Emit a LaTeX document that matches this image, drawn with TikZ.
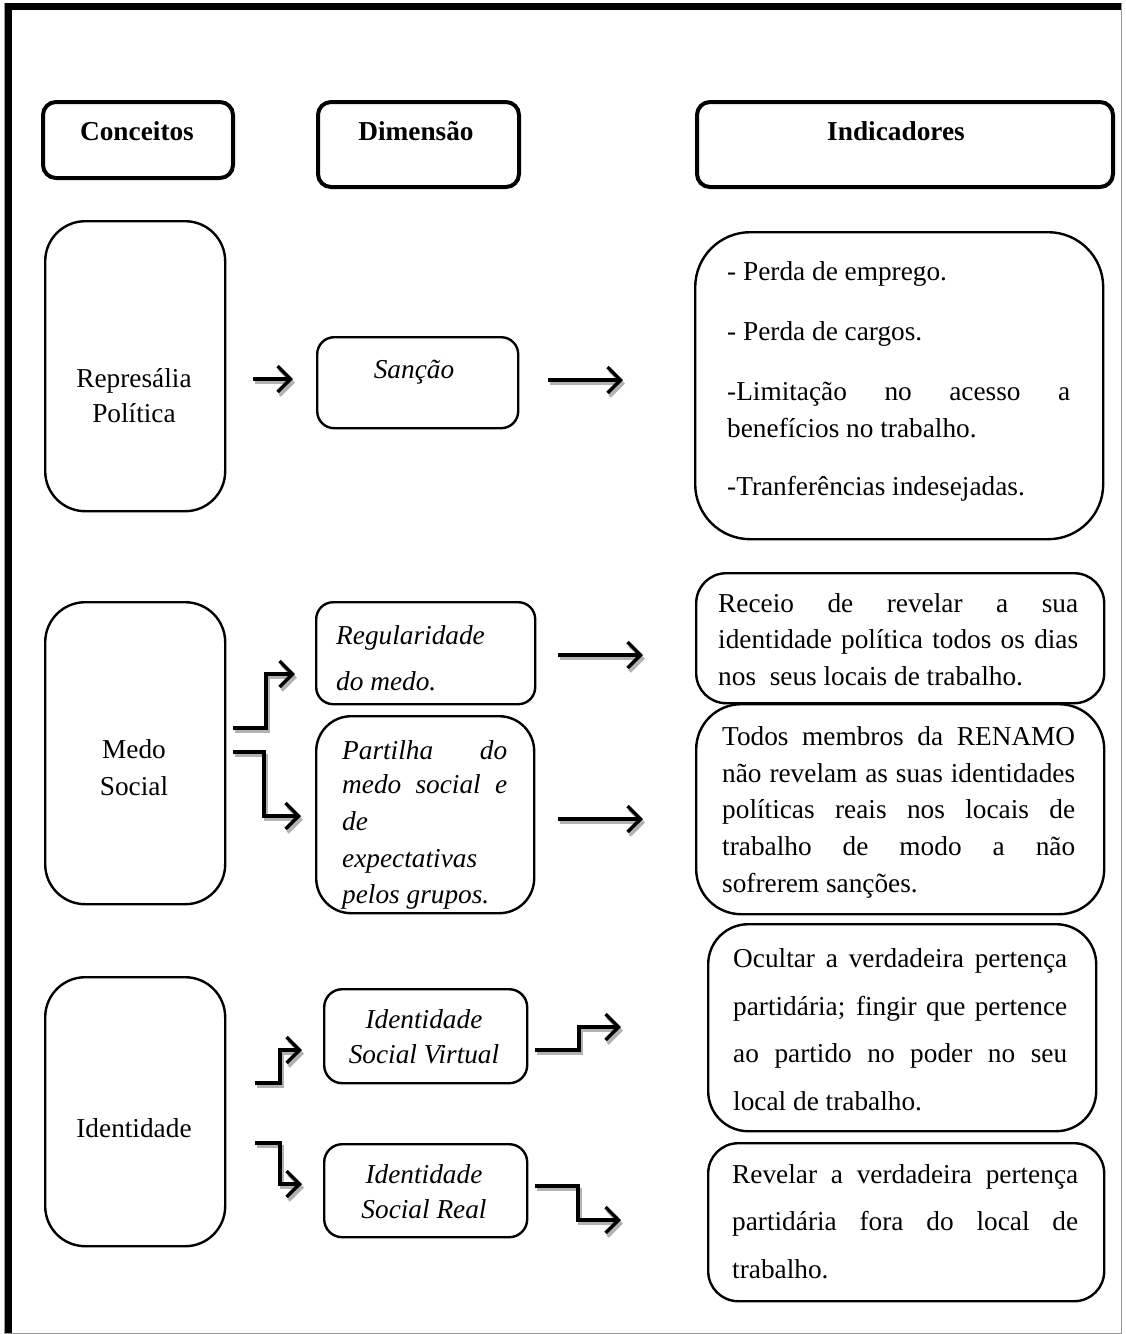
\documentclass[tikz,border=0pt]{standalone}
\usepackage{fontspec}
\setmainfont{Liberation Serif}
\usetikzlibrary{arrows.meta}
\tikzset{
  hdr/.style={draw, line width=4pt, rounded corners=13pt, inner sep=0pt, anchor=north west},
  cbox/.style={draw, line width=2.4pt, inner sep=0pt, anchor=north west},
  txt/.style={inner sep=0pt, font=\fontsize{27.3}{32}\selectfont},
  itx/.style={txt, font=\fontsize{27.3}{32}\selectfont\itshape},
  btx/.style={txt, font=\fontsize{27.3}{32}\selectfont\bfseries},
  arrbase/.style={line width=3.5pt, -{Straight Barb[length=13pt,width=26pt,line width=3.5pt,line join=miter]}},
  ashadow/.style={arrbase, draw=black!30, transform canvas={shift={(2pt,-3.5pt)}}},
  amain/.style={arrbase, draw=black},
}
\newcommand\sarr[1]{\draw[ashadow] #1; \draw[amain] #1;}
\newcommand\lineL[4]{\node[txt,anchor=base west] (#1) at (#2,#3) {#4};}
\newcommand\lineJ[5]{\node[txt,anchor=base west] (#1) at (#2,#3) {\makebox[#4pt][s]{#5}};}
\newcommand\lineC[4]{\node[txt,anchor=base] (#1) at (#2,#3) {#4};}
\newcommand\ilineL[4]{\node[itx,anchor=base west] (#1) at (#2,#3) {#4};}
\newcommand\ilineJ[5]{\node[itx,anchor=base west] (#1) at (#2,#3) {\makebox[#4pt][s]{#5}};}
\newcommand\ilineC[4]{\node[itx,anchor=base] (#1) at (#2,#3) {#4};}
\begin{document}
\begin{tikzpicture}[x=1pt,y=-1pt]
\useasboundingbox (0,0) rectangle (1126,1334);
% page frame
\draw[black!40, line width=1pt] (4,3) rectangle (1121,1333);
\draw[line width=7pt] (5,6.5) -- (1121,6.5);
\draw[line width=7pt] (8.5,3) -- (8.5,1333);

% header boxes
\node[hdr, minimum width=190pt, minimum height=76pt] (hC) at (41,100) {};
\node[hdr, minimum width=201pt, minimum height=85pt] (hD) at (316,100) {};
\node[hdr, minimum width=416pt, minimum height=85pt] (hI) at (695,100) {};
\node[btx, anchor=base] (tC) at (137,140) {Conceitos};
\node[btx, anchor=base] (tD) at (416,140) {Dimensão};
\node[btx, anchor=base] (tI) at (896,140) {Indicadores};

% content boxes
\node[cbox, rounded corners=40pt, minimum width=180pt, minimum height=290pt] (rep) at (44,220) {};
\node[cbox, rounded corners=17pt, minimum width=201pt, minimum height=91pt] (sanc) at (316,336) {};
\node[cbox, rounded corners=55pt, minimum width=408pt, minimum height=307pt] (perda) at (694,231) {};
\node[cbox, rounded corners=40pt, minimum width=180pt, minimum height=302pt] (medo) at (44,601) {};
\node[cbox, rounded corners=17pt, minimum width=219pt, minimum height=102pt] (regul) at (315,601) {};
\node[cbox, rounded corners=35pt, minimum width=218pt, minimum height=197pt] (part) at (315,715) {};
\node[cbox, rounded corners=30pt, minimum width=408pt, minimum height=130pt] (rece) at (695,572) {};
\node[cbox, rounded corners=45pt, minimum width=408pt, minimum height=210pt] (todos) at (695,703) {};
\node[cbox, rounded corners=40pt, minimum width=180pt, minimum height=269pt] (ident) at (44,976) {};
\node[cbox, rounded corners=18pt, minimum width=203pt, minimum height=94pt] (isv) at (323,988) {};
\node[cbox, rounded corners=18pt, minimum width=203pt, minimum height=93pt] (isr) at (323,1143) {};
\node[cbox, rounded corners=40pt, minimum width=388pt, minimum height=207pt] (ocul) at (707,923) {};
\node[cbox, rounded corners=30pt, minimum width=396pt, minimum height=158pt] (revl) at (707,1142) {};

% concept texts
\lineC{repA}{134}{387}{Represália}
\lineC{repB}{134}{422}{Política}
\lineC{medA}{134}{758}{Medo}
\lineC{medB}{134}{795}{Social}
\lineC{idA}{134}{1137}{Identidade}

% dimension texts
\ilineC{sancT}{414}{378}{Sanção}
\ilineL{regA}{336}{644}{Regularidade}
\ilineL{regB}{336}{690}{do medo.}
\ilineJ{parA}{342}{759}{165}{Partilha do}
\ilineJ{parB}{342}{793}{165}{medo social e}
\ilineL{parC}{342}{830}{de}
\ilineL{parD}{342}{867}{expectativas}
\ilineL{parE}{342}{903}{pelos grupos.}
\ilineC{isvA}{424}{1028}{Identidade}
\ilineC{isvB}{424}{1063}{Social Virtual}
\ilineC{isrA}{424}{1183}{Identidade}
\ilineC{isrB}{424}{1218}{Social Real}

% indicator texts
\lineL{peA}{727}{280}{- Perda de emprego.}
\lineL{peB}{727}{340}{- Perda de cargos.}
\lineJ{peC}{727}{400}{343}{-Limitação no acesso a}
\lineL{peD}{727}{437}{benefícios no trabalho.}
\lineL{peE}{727}{495}{-Tranferências indesejadas.}

\lineJ{reA}{718}{612}{360}{Receio de revelar a sua}
\lineJ{reB}{718}{648}{360}{identidade política todos os dias}
\lineL{reC}{718}{685}{nos\ \ seus locais de trabalho.}

\lineJ{toA}{722}{745}{353}{Todos membros da RENAMO}
\lineJ{toB}{722}{782}{353}{não revelam as suas identidades}
\lineJ{toC}{722}{818}{353}{políticas reais nos locais de}
\lineJ{toD}{722}{855}{353}{trabalho de modo a não}
\lineL{toE}{722}{892}{sofrerem sanções.}

\lineJ{ocA}{733}{967}{334}{Ocultar a verdadeira pertença}
\lineJ{ocB}{733}{1015}{334}{partidária; fingir que pertence}
\lineJ{ocC}{733}{1062}{334}{ao partido no poder no seu}
\lineL{ocD}{733}{1110}{local de trabalho.}

\lineJ{rvA}{732}{1183}{346}{Revelar a verdadeira pertença}
\lineJ{rvB}{732}{1230}{346}{partidária fora do local de}
\lineL{rvC}{732}{1278}{trabalho.}

% connector end points
\coordinate (a1s) at (253,379);  \coordinate (a1e) at (293,379);
\coordinate (a2s) at (548,380);  \coordinate (a2e) at (623,380);
\coordinate (a3s) at (233,728);  \coordinate (a3e) at (295,674);
\coordinate (a4s) at (233,752);  \coordinate (a4e) at (301,816);
\coordinate (a5s) at (558,655);  \coordinate (a5e) at (643,655);
\coordinate (a6s) at (558,819);  \coordinate (a6e) at (643,819);
\coordinate (a7s) at (255,1083); \coordinate (a7e) at (302,1050);
\coordinate (a8s) at (255,1143); \coordinate (a8e) at (302,1184);
\coordinate (a9s) at (535,1050); \coordinate (a9e) at (621,1027);
\coordinate (a10s) at (535,1186); \coordinate (a10e) at (621,1220);

% connectors
\sarr{(a1s) -- (a1e)}
\sarr{(a2s) -- (a2e)}
\sarr{(a3s) -- ++(33,0) |- (a3e)}
\sarr{(a4s) -- ++(31,0) |- (a4e)}
\sarr{(a5s) -- (a5e)}
\sarr{(a6s) -- (a6e)}
\sarr{(a7s) -- ++(25,0) |- (a7e)}
\sarr{(a8s) -- ++(25,0) |- (a8e)}
\sarr{(a9s) -- ++(44,0) |- (a9e)}
\sarr{(a10s) -- ++(43,0) |- (a10e)}
\end{tikzpicture}
\end{document}
